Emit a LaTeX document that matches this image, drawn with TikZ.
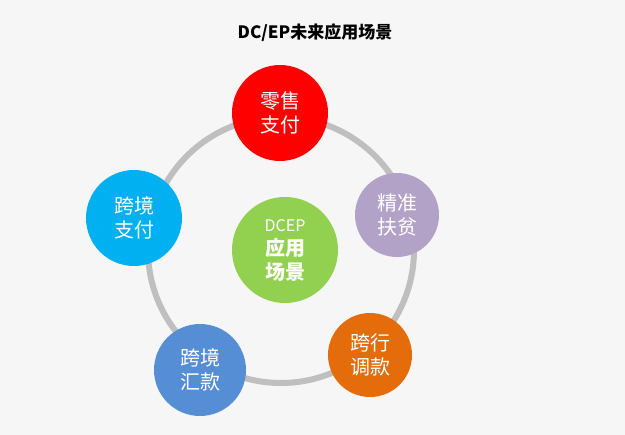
\documentclass[tikz,border=0pt]{standalone}
\usepackage{fontspec}
\newfontfamily\cjk{Noto Sans CJK SC}
\begin{document}
\begin{tikzpicture}[x=1pt,y=-1pt,
  ball/.style={circle,draw=none,text=white,align=center,font=\cjk\fontsize{20}{24}\selectfont,inner sep=0pt}]
\fill[gray!7] (0,0) rectangle (625,435);
\node[font=\cjk\bfseries\fontsize{17}{20}\selectfont] (title) at (315,33) {DC/EP未来应用场景};
\draw[line width=6pt,color=gray!50] (281,250) circle (133);
\node[ball,fill={rgb,255:red,255;green,0;blue,0},minimum size=96pt] (a) at (280,113) {零售\\支付};
\node[ball,fill={rgb,255:red,178;green,162;blue,199},minimum size=84pt] (b) at (397,215) {精准\\扶贫};
\node[ball,fill={rgb,255:red,228;green,108;blue,10},minimum size=84pt] (c) at (370,355) {跨行\\调款};
\node[ball,fill={rgb,255:red,85;green,142;blue,213},minimum size=92pt] (d) at (200,370) {跨境\\汇款};
\node[ball,fill={rgb,255:red,0;green,176;blue,240},minimum size=96pt] (e) at (134,218) {跨境\\支付};
\node[ball,fill={rgb,255:red,146;green,208;blue,80},minimum size=106pt] (f) at (285,250) {{\fontsize{16}{20}\selectfont DCEP}\\\bfseries 应用\\\bfseries 场景};
\end{tikzpicture}
\end{document}
